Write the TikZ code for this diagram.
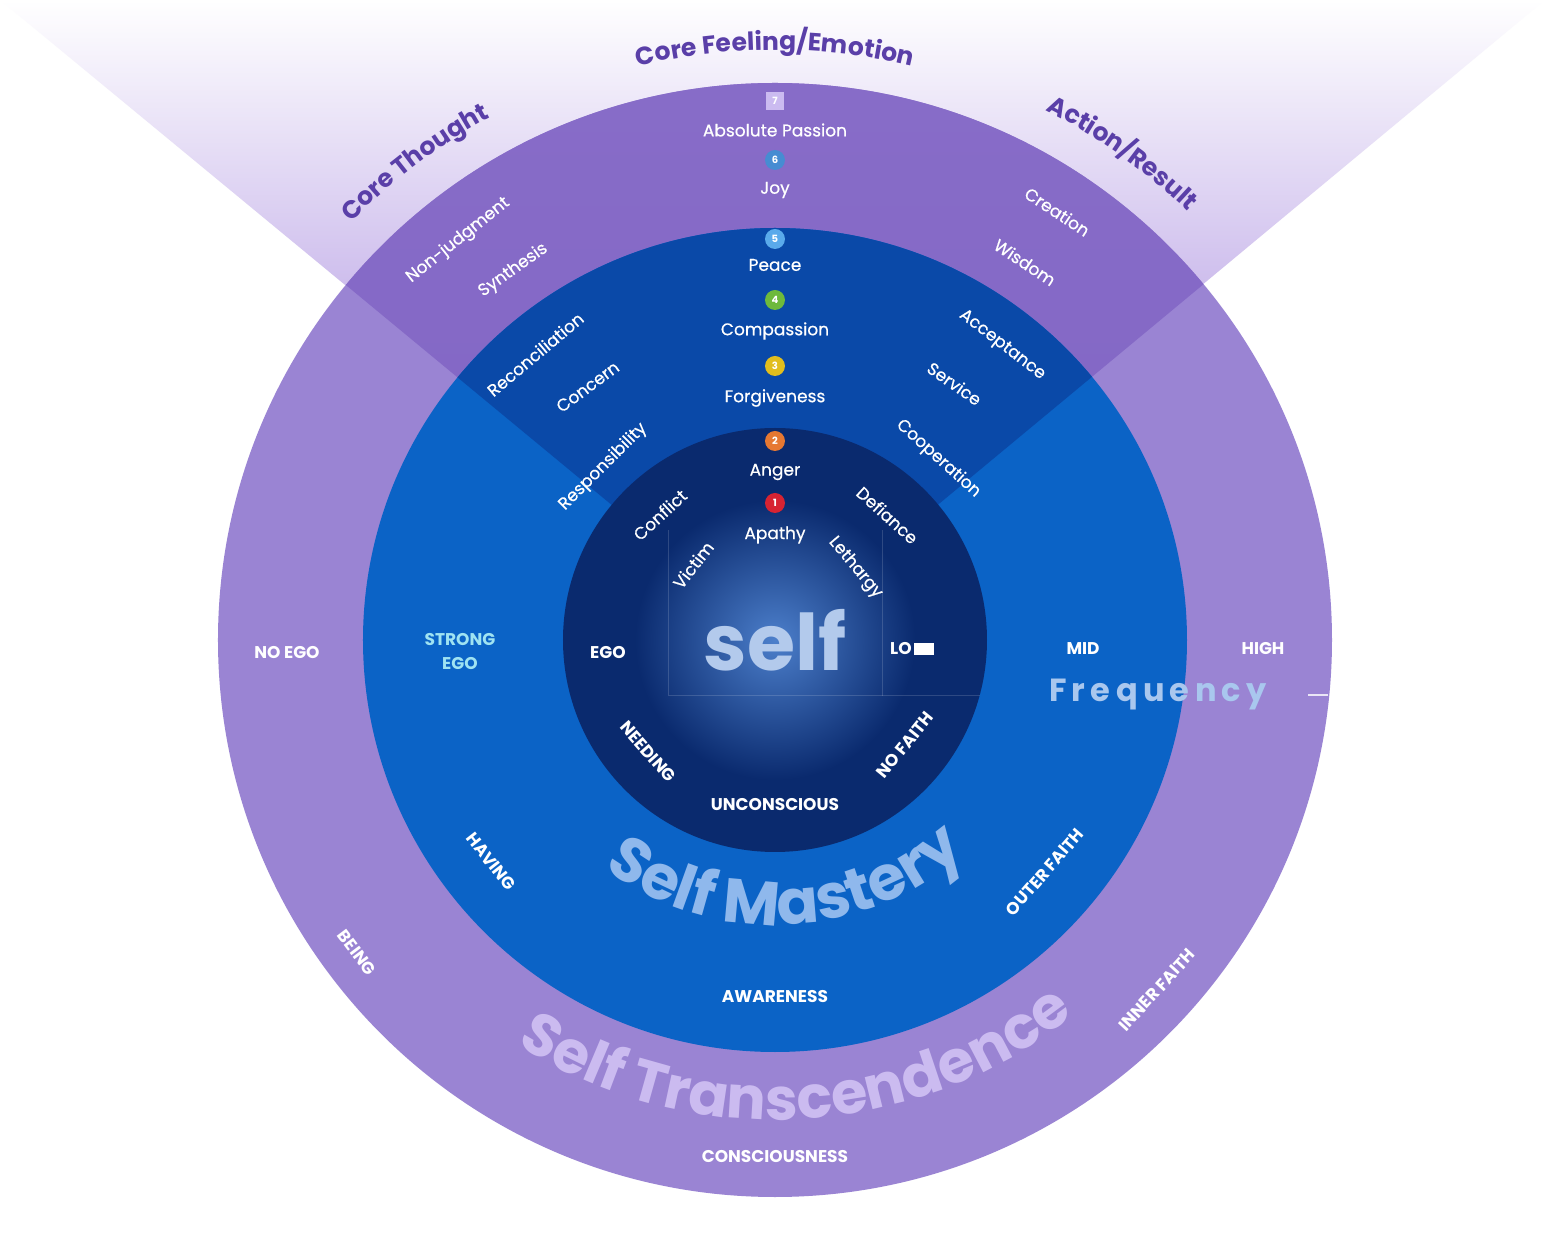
\documentclass[tikz,border=0pt]{standalone}
\usepackage{fontspec}
\setmainfont{Poppins}
\newfontfamily\medfont[FakeBold=0.5]{Poppins}
\usetikzlibrary{decorations.text}
\definecolor{outerbase}{HTML}{9A84D3}
\definecolor{outerwedge}{HTML}{8468C6}
\definecolor{midbase}{HTML}{0B63C6}
\definecolor{midwedge}{HTML}{0A49A8}
\definecolor{innerbase}{HTML}{0A2A6E}
\definecolor{glow}{HTML}{4C7FCB}
\definecolor{cone}{HTML}{BCA6E6}
\definecolor{corecol}{HTML}{5A3FA8}
\definecolor{freq}{HTML}{A9C7EE}
\definecolor{selfcol}{HTML}{B3CAEC}
\definecolor{smcol}{HTML}{8FB8EC}
\definecolor{stcol}{HTML}{CBBBF0}
\definecolor{egocol}{HTML}{9FE3F2}
\tikzset{
  lab/.style={text=white,font=\medfont\fontsize{17}{18}\selectfont,inner sep=0pt},
  caplab/.style={text=white,font=\bfseries\fontsize{17}{18}\selectfont,inner sep=0pt,align=center},
  num/.style={circle,minimum size=20pt,inner sep=0pt,text=white,font=\bfseries\fontsize{10}{10}\selectfont},
  core/.style={decoration={text along path,text align=center,
    text={|\bfseries\fontsize{25}{25}\selectfont\color{corecol}|#1}},decorate},
}
\begin{document}
\begin{tikzpicture}[x=1pt,y=1pt]
\useasboundingbox (-775,-596) rectangle (770,640);
\fill[white] (-775,-596) rectangle (770,640);
% cone
\begin{scope}
\clip (0,0) -- (-775,640) -- (770,640) -- cycle;
\shade[top color=white,bottom color=cone] (-775,250) rectangle (770,640);
\fill[cone] (-775,0) rectangle (770,250);
\end{scope}
% outer ring
\fill[outerbase] (0,0) circle[radius=557];
\begin{scope}
\clip (0,0) circle[radius=557];
\clip (0,0) -- (140.4:1100) -- (39.7:1100) -- cycle;
\shade[top color=outerwedge!85!outerbase,bottom color=outerwedge] (-600,250) rectangle (600,560);
\fill[outerwedge] (-600,0) rectangle (600,250);
\end{scope}
% middle ring
\fill[midbase] (0,0) circle[radius=412];
\begin{scope}
\clip (0,0) circle[radius=412];
\fill[midwedge] (0,0) -- (140.4:1100) -- (39.7:1100) -- cycle;
\end{scope}
% inner
\fill[innerbase] (0,0) circle[radius=212];
\shade[inner color=glow,outer color=innerbase] (0,0) circle[radius=140];
\draw[white,opacity=0.15,line width=0.8pt] (-107,110) -- (-107,-55) -- (107,-55) -- (107,110);
\draw[white,opacity=0.15,line width=0.8pt] (107,-55) -- (205,-55);
% core labels
\path[core={Core Feeling/Emotion}] (118:590) arc[start angle=118,end angle=62,radius=590];
\path[core={Core Thought}] (139:595) arc[start angle=139,end angle=115,radius=595];
\path[core={Action/Result}] (66:595) arc[start angle=66,end angle=43,radius=595];
% numbers
\node[fill=stcol,minimum size=18pt,inner sep=0pt,text=white,font=\bfseries\fontsize{10}{10}\selectfont] (n7) at (0,539) {7};
\node[num,fill={rgb,255:red,70;green,140;blue,210}] (n6) at (0,480) {6};
\node[num,fill={rgb,255:red,90;green,170;blue,235}] (n5) at (0,401) {5};
\node[num,fill={rgb,255:red,110;green,185;blue,60}] (n4) at (0,340) {4};
\node[num,fill={rgb,255:red,225;green,190;blue,30}] (n3) at (0,274) {3};
\node[num,fill={rgb,255:red,230;green,120;blue,50}] (n2) at (0,199) {2};
\node[num,fill={rgb,255:red,215;green,35;blue,50}] (n1) at (0,137) {1};
\node[lab] (l7) at (0,510) {Absolute Passion};
\node[lab] (l6) at (0,450) {Joy};
\node[lab] (l5) at (0,375) {Peace};
\node[lab] (l4) at (0,309) {Compassion};
\node[lab] (l3) at (0,242) {Forgiveness};
\node[lab] (l2) at (0,168) {Anger};
\node[lab] (l1) at (0,105) {Apathy};
% left side
\node[lab,rotate=38.4] (a1) at (128.4:510) {Non-judgment};
\node[lab,rotate=35.3] (a2) at (125.3:453) {Synthesis};
\node[lab,rotate=40] (a3) at (130:373) {Reconciliation};
\node[lab,rotate=36.5] (a4) at (126.5:315) {Concern};
\node[lab,rotate=44.8] (a5) at (134.8:244) {Responsibility};
\node[lab,rotate=42.6] (a6) at (132.6:170) {Conflict};
\node[lab,rotate=52] (a7) at (137.5:111) {Victim};
% right side
\node[lab,rotate=-33.4] (b1) at (56.6:513) {Creation};
\node[lab,rotate=-33.5] (b2) at (56.5:453) {Wisdom};
\node[lab,rotate=-37.6] (b3) at (52.4:372) {Acceptance};
\node[lab,rotate=-35] (b4) at (55:313) {Service};
\node[lab,rotate=-42] (b5) at (48:244) {Cooperation};
\node[lab,rotate=-42] (b6) at (48:168) {Defiance};
\node[lab,rotate=-50] (b7) at (42:108) {Lethargy};
% horizontal row
\node[caplab] (noego) at (-488,-13) {NO EGO};
\node[caplab,text=egocol,font=\bfseries\fontsize{17}{24}\selectfont] (strong) at (-315,-12) {STRONG\\EGO};
\node[caplab] (ego) at (-167,-13) {EGO};
\node[text=selfcol,font=\bfseries\fontsize{78}{78}\selectfont,inner sep=0pt] (self) at (0,0) {self};
\node[caplab,anchor=west] (low) at (115,-9) {LO};
\fill[white] (low.east) ++(2,-6) rectangle ++(20,12);
\node[caplab] (mid) at (308,-9) {MID};
\node[caplab] (high) at (488,-9) {HIGH};
\node[text=freq,font=\bfseries\fontsize{32}{32}\selectfont,inner sep=0pt] (freqn) at (383,-55) {F\,r\,e\,q\,u\,e\,n\,c\,y};
\coordinate (f1) at (533,-55);
\coordinate (f2) at (553,-55);
\draw[white,opacity=0.8,line width=1.5pt] (f1) -- (f2);
% bottom labels inner
\node[caplab,rotate=-48.6] (needing) at (221.4:169) {NEEDING};
\node[caplab] (uncon) at (270:165) {UNCONSCIOUS};
\node[caplab,rotate=51] (nofaith) at (-39:167) {NO FAITH};
\node[caplab,rotate=-52] (having) at (218:360) {HAVING};
\node[caplab,rotate=49] (outer) at (-40.7:356) {OUTER FAITH};
\node[caplab] (aware) at (270:357) {AWARENESS};
\node[caplab,rotate=-53] (being) at (216.8:522) {BEING};
\node[caplab,rotate=47.5] (inner) at (-42.5:518) {INNER FAITH};
\node[caplab] (consc) at (270:517) {CONSCIOUSNESS};
% big curved
\path[decorate,decoration={text along path,text align=center,
  text={|\bfseries\fontsize{62}{62}\selectfont\color{smcol}|Self Mastery}}]
  (215:285) arc[start angle=215,end angle=330,radius=285];
\path[decorate,decoration={text along path,text align=center,
  text={|\bfseries\fontsize{59}{59}\selectfont\color{stcol}|Self Transcendence}}]
  (218:480) arc[start angle=218,end angle=328,radius=480];
\end{tikzpicture}
\end{document}
